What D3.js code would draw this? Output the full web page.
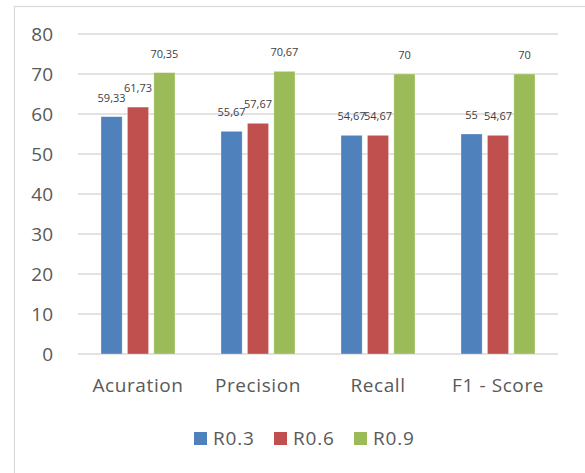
<!DOCTYPE html>
<html>
<head>
<meta charset="utf-8">
<script src="https://cdn.jsdelivr.net/npm/d3@7"></script>
<style>
  html, body { margin: 0; padding: 0; background: #fff; }
  svg { display: block; font-family: "Open Sans", "Noto Sans", sans-serif; }
</style>
</head>
<body>
<svg id="chart" width="585" height="473"></svg>
<script>
// Metric categories along the x axis
const categories = ["Acuration", "Precision", "Recall", "F1 - Score"];
// Series names (legend entries)
const seriesNames = ["R0.3", "R0.6", "R0.9"];
// Values per series, one per category
const r03 = [59.33, 55.67, 54.67, 55];
const r06 = [61.73, 57.67, 54.67, 54.67];
const r09 = [70.35, 70.67, 70, 70];
// Labels as printed above the bars (decimal comma)
const r03Labels = ["59,33", "55,67", "54,67", "55"];
const r06Labels = ["61,73", "57,67", "54,67", "54,67"];
const r09Labels = ["70,35", "70,67", "70", "70"];
// Y axis ticks
const yTicks = [0, 10, 20, 30, 40, 50, 60, 70, 80];

const seriesValues = [r03, r06, r09];
const seriesLabels = [r03Labels, r06Labels, r09Labels];
const colors = ["#4f81bd", "#c0504d", "#9bbb59"];
const textColor = "#595959";
const gridColor = "#d9d9d9";

const svg = d3.select("#chart");

// Outer chart frame (continues past the visible area to the right and bottom)
svg.append("rect")
  .attr("x", 14.5).attr("y", 6.5)
  .attr("width", 640).attr("height", 520)
  .attr("fill", "none")
  .attr("stroke", gridColor)
  .attr("stroke-width", 1.2);

const plot = { left: 78, right: 558, top: 34, bottom: 354 };

const x = d3.scaleBand()
  .domain(categories)
  .range([plot.left, plot.right])
  .paddingInner(0).paddingOuter(0);

const xInner = d3.scaleBand()
  .domain(seriesNames)
  .range([23, 97])
  .paddingInner(0.2);

const y = d3.scaleLinear()
  .domain([0, 80])
  .range([plot.bottom, plot.top]);

// Horizontal gridlines
svg.append("g")
  .selectAll("line")
  .data(yTicks)
  .join("line")
  .attr("x1", plot.left).attr("x2", plot.right)
  .attr("y1", d => y(d)).attr("y2", d => y(d))
  .attr("stroke", gridColor)
  .attr("stroke-width", 1.5);

// Y axis labels
const yAxis = d3.axisLeft(y).tickValues(yTicks).tickSize(0).tickPadding(0);
const yg = svg.append("g")
  .attr("transform", `translate(53,0)`)
  .call(yAxis);
yg.select(".domain").remove();
yg.selectAll("text")
  .attr("fill", textColor)
  .attr("font-size", 19)
  .attr("font-family", "'Open Sans', 'Noto Sans', sans-serif")
  .attr("dy", "0.35em");

// Bars
const groups = svg.append("g")
  .selectAll("g")
  .data(seriesNames)
  .join("g");

groups.each(function(name, si) {
  const g = d3.select(this);
  const vals = seriesValues[si];
  g.selectAll("rect")
    .data(categories)
    .join("rect")
    .attr("x", (c) => x(c) + xInner(name))
    .attr("width", xInner.bandwidth())
    .attr("y", (c, i) => y(vals[i]))
    .attr("height", (c, i) => y(0) - y(vals[i]))
    .attr("fill", colors[si])
    .attr("stroke", "#ffffff")
    .attr("stroke-opacity", 0.5)
    .attr("stroke-width", 0.6);

  g.selectAll("text")
    .data(categories)
    .join("text")
    .attr("x", (c) => x(c) + xInner(name) + xInner.bandwidth() / 2)
    .attr("y", (c, i) => y(vals[i]) - 15)
    .attr("text-anchor", "middle")
    .attr("font-size", 11)
    .attr("fill", "#404040")
    .text((c, i) => seriesLabels[si][i]);
});

// X axis category labels
const xAxis = d3.axisBottom(x).tickSize(0).tickPadding(0);
const xg = svg.append("g")
  .attr("transform", `translate(0,${plot.bottom})`)
  .call(xAxis);
xg.select(".domain").remove();
xg.selectAll("text")
  .attr("fill", textColor)
  .attr("font-size", 19)
  .attr("font-family", "'Open Sans', 'Noto Sans', sans-serif")
  .attr("letter-spacing", "0.6px")
  .attr("dy", 0)
  .attr("y", 38);

// Legend
const legendX = [194, 274, 354];
const legend = svg.append("g")
  .selectAll("g")
  .data(seriesNames)
  .join("g")
  .attr("transform", (d, i) => `translate(${legendX[i]},432)`);
legend.append("rect")
  .attr("width", 13).attr("height", 13)
  .attr("fill", (d, i) => colors[i]);
legend.append("text")
  .attr("x", 19).attr("y", 13)
  .attr("font-size", 19)
  .attr("letter-spacing", "0.8px")
  .attr("fill", textColor)
  .text(d => d);
</script>
</body>
</html>
